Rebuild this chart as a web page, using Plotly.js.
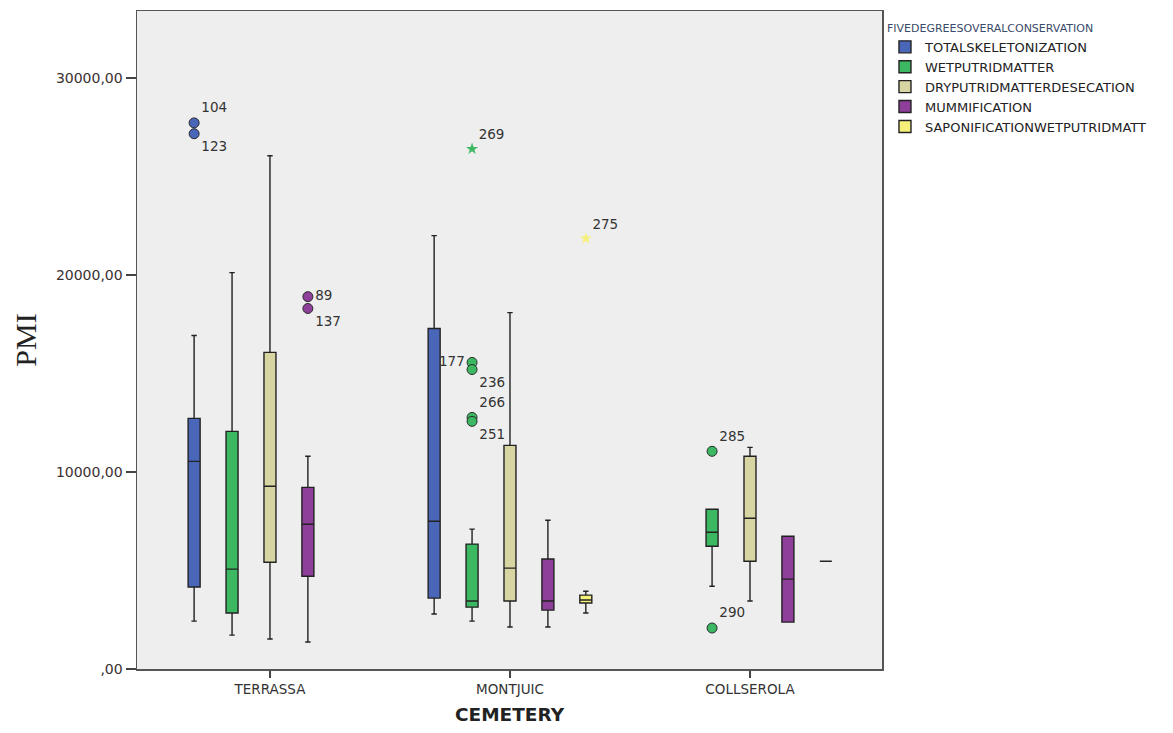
<!DOCTYPE html>
<html>
<head>
<meta charset="utf-8">
<script src="https://cdn.plot.ly/plotly-3.0.1.min.js"></script>
<style>html,body{margin:0;padding:0;background:#fff;}#chart{width:1173px;height:733px;}</style>
</head>
<body>
<div id="chart"></div>
<script>
// ---- data ----
var cemeteries = ['TERRASSA', 'MONTJUIC', 'COLLSEROLA'];
var seriesNames = ['TOTALSKELETONIZATION', 'WETPUTRIDMATTER', 'DRYPUTRIDMATTERDESECATION', 'MUMMIFICATION', 'SAPONIFICATIONWETPUTRIDMATT'];
var seriesColors = ['#4a66b8', '#3cb863', '#d7d6a3', '#8e3f9a', '#f5f07a'];

// per series: values for [TERRASSA, MONTJUIC, COLLSEROLA]; null = no group
var lowerFence = [[2430, 2790, null], [1720, 2430, 4200], [1520, 2130, 3450], [1370, 2130, 2380], [null, 2840, 5470]];
var q1Vals     = [[4160, 3600, null], [2840, 3140, 6230], [5420, 3450, 5470], [4710, 2990, 2380], [null, 3350, 5470]];
var medianVals = [[10540, 7500, null], [5070, 3450, 6940], [9280, 5120, 7650], [7350, 3450, 4560], [null, 3500, 5470]];
var q3Vals     = [[12720, 17280, null], [12060, 6340, 8110], [16070, 11350, 10800], [9220, 5580, 6740], [null, 3750, 5470]];
var upperFence = [[16930, 22000, null], [20120, 7100, 8110], [26050, 18090, 11250], [10800, 7550, 6740], [null, 3950, 5470]];

// outliers (o) and extremes (*)
var outSeries   = [0, 0, 3, 3, 1, 1, 1, 1, 1, 4, 1, 1];
var outCemetery = [0, 0, 0, 0, 1, 1, 1, 1, 1, 1, 2, 2];
var outValues   = [27720, 27170, 18900, 18300, 15560, 15200, 12770, 12570, 26400, 21850, 11050, 2080];
var outLabels   = ['104', '123', '89', '137', '177', '236', '266', '251', '269', '275', '285', '290'];
var outKind     = ['o', 'o', 'o', 'o', 'o', 'o', 'o', 'o', '*', '*', 'o', 'o'];
var outLabelPos = ['top right', 'bottom right', 'middle right', 'bottom right', 'middle left', 'bottom right',
                   'top right', 'bottom right', 'top right', 'top right', 'top right', 'top right'];

var yTickVals = [0, 10000, 20000, 30000];
var yTickText = [',00', '10000,00', '20000,00', '30000,00'];

// ---- build ----
var slot = 0.158;
function pos(c, s) { return c + (s - (seriesNames.length - 1) / 2) * slot; }

var traces = [];
seriesNames.forEach(function (name, s) {
  var x = [], lf = [], q1 = [], md = [], q3 = [], uf = [];
  cemeteries.forEach(function (c, ci) {
    if (medianVals[s][ci] === null) return;
    x.push(pos(ci, s));
    lf.push(lowerFence[s][ci]); q1.push(q1Vals[s][ci]); md.push(medianVals[s][ci]);
    q3.push(q3Vals[s][ci]); uf.push(upperFence[s][ci]);
  });
  traces.push({
    type: 'box', name: name, x: x, q1: q1, median: md, q3: q3,
    lowerfence: lf, upperfence: uf, width: 0.05, whiskerwidth: 0.45,
    fillcolor: seriesColors[s], line: {color: '#222', width: 1.4},
    boxpoints: false, hoverinfo: 'skip', showlegend: true
  });
});

['o', '*'].forEach(function (kind) {
  var x = [], y = [], t = [], tp = [], col = [];
  outValues.forEach(function (v, i) {
    if (outKind[i] !== kind) return;
    x.push(pos(outCemetery[i], outSeries[i]));
    y.push(v); t.push(outLabels[i]); tp.push(outLabelPos[i]);
    col.push(seriesColors[outSeries[i]]);
  });
  traces.push({
    type: 'scatter', mode: 'markers+text', x: x, y: y, text: t, textposition: tp,
    textfont: {family: 'DejaVu Sans', size: 13.5, color: '#333'},
    marker: kind === 'o'
      ? {symbol: 'circle', size: 10, color: col, line: {color: '#2a2a2a', width: 1}}
      : {symbol: 'star', size: 9, color: col, line: {width: 0}},
    showlegend: false, hoverinfo: 'skip'
  });
});

var layout = {
  width: 1173, height: 733,
  margin: {l: 137, r: 291, t: 11, b: 64},
  paper_bgcolor: '#ffffff', plot_bgcolor: '#eeeeee',
  font: {family: 'DejaVu Sans, sans-serif', color: '#333'},
  showlegend: true,
  legend: {
    x: 1.004, y: 0.99, xanchor: 'left', yanchor: 'top',
    title: {text: 'FIVEDEGREESOVERALCONSERVATION', font: {family: 'DejaVu Sans', size: 11, color: '#3a4a6a'}},
    font: {family: 'DejaVu Sans', size: 13, color: '#222'}, itemwidth: 30, tracegroupgap: 0,
    bgcolor: 'rgba(0,0,0,0)'
  },
  xaxis: {
    range: [-0.554, 2.55], tickvals: [0, 1, 2], ticktext: cemeteries,
    tickfont: {family: 'DejaVu Sans', size: 13.5, color: '#333'}, ticks: 'outside', ticklen: 7, tickcolor: '#444', tickwidth: 1.5,
    showline: true, mirror: true, linecolor: '#555', linewidth: 1.5, showgrid: false, zeroline: false,
    title: {text: 'CEMETERY', font: {size: 18.5, color: '#222', family: 'DejaVu Sans, sans-serif', weight: 'bold'}, standoff: 12}
  },
  yaxis: {
    range: [0, 33400], tickvals: yTickVals, ticktext: yTickText,
    tickfont: {family: 'DejaVu Sans', size: 14, color: '#3a3030'}, ticks: 'outside', ticklen: 10, tickcolor: '#444', tickwidth: 1.2,
    showline: true, mirror: true, linecolor: '#555', linewidth: 1.5, showgrid: false, zeroline: false,
    title: {text: 'PMI', font: {size: 30, color: '#222', family: 'Liberation Serif, serif'}, standoff: 10}
  }
};

Plotly.newPlot('chart', traces, layout, {displayModeBar: false, staticPlot: true});
</script>
</body>
</html>
